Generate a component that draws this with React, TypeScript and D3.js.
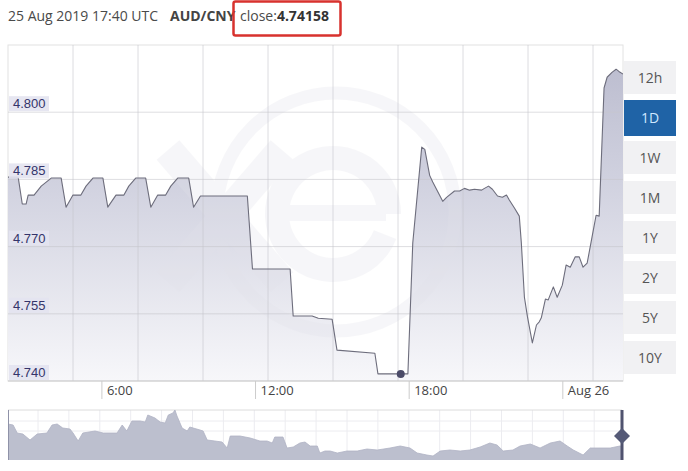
import React from "react";
import * as d3 from "d3";

// ---- data ----
const hours = [
  2.33, 2.73, 2.89, 3.04, 3.12, 3.35, 3.63, 4.02, 4.41, 4.6, 4.87, 5.18, 5.38, 5.65, 6.04, 6.23, 6.55, 6.86,
  7.05, 7.32, 7.71, 7.91, 8.18, 8.49, 8.69, 8.96, 9.39, 9.58, 9.85, 11.68, 11.88, 13.35, 13.47, 14.21, 14.45,
  14.99, 15.18, 16.66, 16.78, 17.67, 17.95, 18.14, 18.49, 18.61, 18.8, 18.92, 19.31, 19.46, 19.77, 19.97,
  20.16, 20.36, 20.55, 20.83, 20.94, 21.1, 21.25, 21.45, 21.64, 21.8, 21.91, 22.11, 22.3, 22.38, 22.5, 22.62,
  22.81, 22.97, 23.08, 23.16, 23.32, 23.43, 23.63, 23.78, 23.98, 24.13, 24.29, 24.48, 24.64, 24.79, 24.95,
  25.14, 25.3, 25.42, 25.61, 25.73, 25.92, 26.08, 26.19, 26.35,
];
const rates = [
  4.7855, 4.7855, 4.7795, 4.7795, 4.7815, 4.7815, 4.7835, 4.7853, 4.7853, 4.7788, 4.7815, 4.7815, 4.7835,
  4.7853, 4.7853, 4.7788, 4.7815, 4.7815, 4.7835, 4.7853, 4.7853, 4.7788, 4.7815, 4.7815, 4.7835, 4.7853,
  4.7853, 4.7788, 4.7813, 4.7813, 4.765, 4.765, 4.7545, 4.7545, 4.754, 4.7538, 4.7469, 4.7462, 4.7416,
  4.74158, 4.7416, 4.7708, 4.7922, 4.7917, 4.7859, 4.7844, 4.7801, 4.781, 4.7824, 4.7824, 4.783, 4.7826,
  4.7828, 4.7826, 4.783, 4.7835, 4.7828, 4.7813, 4.781, 4.7815, 4.7804, 4.7786, 4.7768, 4.7708, 4.7587,
  4.7543, 4.7485, 4.7525, 4.7532, 4.7541, 4.7583, 4.7581, 4.761, 4.7587, 4.7614, 4.7659, 4.7654, 4.7677,
  4.7677, 4.7654, 4.7663, 4.7721, 4.777, 4.7768, 4.8054, 4.8078, 4.8089, 4.8096, 4.8091, 4.8085,
];

const navMonths = [
  0, 1.0, 1.8, 2.9, 4.3, 5.7, 7.6, 8.6, 9.6, 10.7, 12.1, 12.7, 13.7, 14.6, 17.0, 18.6, 21.3, 22.3, 23.2, 24.2,
  25.8, 26.8, 27.3, 28.7, 29.7, 30.7, 31.3, 32.2, 32.6, 33.0, 34.0, 35.0, 35.5, 37.5, 38.1, 38.9, 40.4, 41.8,
  42.8, 43.4, 45.3, 47.3, 49.2, 50.6, 51.6, 52.1, 53.7, 54.5, 55.7, 57.0, 58.0, 59.0, 60.4, 60.9, 61.9, 62.9,
  64.3, 66.2, 68.2, 70.1, 72.1, 74.6, 76.6, 78.5, 79.9, 81.8, 83.0, 84.4, 86.3, 88.3, 90.2, 92.2, 94.1, 95.5,
  96.7, 98.6, 100.0, 102.0, 103.9, 105.9, 107.8, 109.2, 110.4, 112.3, 113.7, 115.6, 117.6, 119.5, 119.9,
];
const navRates = [
  5.132, 5.12, 5.024, 5.012, 4.94, 5.012, 5.024, 5.12, 5.132, 5.084, 5.072, 5.024, 4.928, 5.024, 5.048, 5.024,
  5.024, 5.12, 5.048, 5.168, 5.168, 5.156, 5.24, 5.204, 5.156, 5.144, 5.24, 5.264, 5.3, 5.228, 5.084, 5.048,
  5.096, 5.06, 5.048, 4.94, 4.928, 4.916, 4.844, 4.988, 4.988, 4.964, 4.928, 4.928, 4.904, 4.976, 4.976,
  4.844, 4.856, 4.904, 4.916, 4.868, 4.868, 4.784, 4.808, 4.808, 4.784, 4.808, 4.808, 4.832, 4.82, 4.844,
  4.868, 4.844, 4.784, 4.76, 4.748, 4.808, 4.82, 4.808, 4.82, 4.856, 4.904, 4.88, 4.808, 4.82, 4.868, 4.892,
  4.844, 4.904, 4.928, 4.868, 4.82, 4.76, 4.844, 4.844, 4.844, 4.868, 4.868,
];

const yTicks = [4.74, 4.755, 4.77, 4.785, 4.8];
const xTickHours = [6, 12, 18, 24];
const xTickLabels = ["6:00", "12:00", "18:00", "Aug 26"];
const ranges = ["12h", "1D", "1W", "1M", "1Y", "2Y", "5Y", "10Y"];
const activeRange = "1D";
const hoverHour = 17.67;
const hoverRate = 4.74158;
const headerDate = "25 Aug 2019 17:40 UTC";
const pairName = "AUD/CNY";

// ---- layout ----
const W = 688;
const H = 471;
const plot = { left: 8, right: 623, top: 45, bottom: 381 };
const nav = { left: 8, right: 622, top: 410, bottom: 460 };
const sans = "'Open Sans', 'Noto Sans', sans-serif";

export default function App() {
  const x = d3.scaleLinear().domain([2.333, 26.35]).range([plot.left, plot.right]);
  const y = d3.scaleLinear().domain([4.74, 4.815]).range([plot.bottom, plot.top]);
  const data = hours.map((h, i) => ({ h, v: rates[i] }));
  const area = d3
    .area<{ h: number; v: number }>()
    .x((d) => x(d.h))
    .y0(plot.bottom)
    .y1((d) => y(d.v));
  const line = d3
    .line<{ h: number; v: number }>()
    .x((d) => x(d.h))
    .y((d) => y(d.v));

  const nx = d3.scaleLinear().domain([0, 119.9]).range([nav.left, nav.right]);
  const ny = d3.scaleLinear().domain([4.7, 5.3]).range([nav.bottom, nav.top]);
  const navData = navMonths.map((m, i) => ({ m, v: navRates[i] }));
  const navArea = d3
    .area<{ m: number; v: number }>()
    .x((d) => nx(d.m))
    .y0(nav.bottom)
    .y1((d) => ny(d.v));
  const navLine = d3
    .line<{ m: number; v: number }>()
    .x((d) => nx(d.m))
    .y((d) => ny(d.v));

  const vGrid = d3.range(1, 10).map((k) => plot.left + k * 65);
  const navVGrid = d3.range(0, 19).map((k) => 38 + k * 30.9);

  // watermark geometry
  const wmCx = 336;
  const wmCy = 214;
  const eArc = d3.arc()({
    innerRadius: 44,
    outerRadius: 68,
    startAngle: Math.PI * 0.62,
    endAngle: Math.PI * 2.5,
  } as any);

  const btnX = 624;
  const btnW = 52;

  return (
    <svg
      width={W}
      height={H}
      style={{ position: "absolute", left: 0, top: 0, background: "#fff" }}
    >
      <defs>
        <linearGradient id="fillGrad" gradientUnits="userSpaceOnUse" x1="0" y1={plot.top} x2="0" y2={plot.bottom}>
          <stop offset="0%" stopColor="#b9bacd" />
          <stop offset="40%" stopColor="#d0d1df" />
          <stop offset="100%" stopColor="#f7f7fa" />
        </linearGradient>
        <clipPath id="plotClip">
          <rect x={plot.left} y={plot.top} width={plot.right - plot.left} height={plot.bottom - plot.top} />
        </clipPath>
      </defs>

      {/* header */}
      <text x={8} y={21} fontFamily={sans} fontSize={14} fill="#4a4a4a">
        {headerDate}
      </text>
      <text x={170} y={21} fontFamily={sans} fontSize={14} fill="#444" fontWeight="bold">
        {pairName}
      </text>
      <text x={240} y={21} fontFamily={sans} fontSize={14} fill="#4a4a4a">
        close:
        <tspan fontWeight="bold" fill="#333">
          {hoverRate.toFixed(5)}
        </tspan>
      </text>
      <rect x={233.5} y={1.5} width={107} height={34} rx={2} fill="none" stroke="#d8322e" strokeWidth={2.5} />

      {/* plot frame */}
      <rect
        x={plot.left}
        y={plot.top}
        width={plot.right - plot.left}
        height={plot.bottom - plot.top}
        fill="#fff"
        stroke="#e2e2e2"
      />

      <g clipPath="url(#plotClip)">
        <path d={area(data) || ""} fill="url(#fillGrad)" />

        {/* watermark */}
        <g opacity={0.28}>
          <circle cx={wmCx} cy={wmCy - 2} r={119} fill="none" stroke="#e2e2ea" strokeWidth={13} />
          <path d={eArc || ""} transform={`translate(${wmCx - 3},${wmCy})`} fill="#e2e2ea" />
          <rect x={wmCx - 50} y={wmCy - 9} width={100} height={16} fill="#e2e2ea" />
          <line x1={168} y1={150} x2={282} y2={282} stroke="#e2e2ea" strokeWidth={30} />
          <line x1={282} y1={150} x2={168} y2={282} stroke="#e2e2ea" strokeWidth={30} />
        </g>

        {/* grid */}
        {yTicks.map((t) => (
          <line key={t} x1={plot.left} x2={plot.right} y1={y(t)} y2={y(t)} stroke="#c6c6cc" strokeOpacity={0.6} />
        ))}
        {vGrid.map((gx) => (
          <line key={gx} x1={gx} x2={gx} y1={plot.top} y2={plot.bottom} stroke="#c6c6cc" strokeOpacity={0.6} />
        ))}

        <path d={line(data) || ""} fill="none" stroke="#6d6d7c" strokeWidth={1.1} strokeLinejoin="round" />
        <circle cx={x(hoverHour)} cy={y(hoverRate)} r={4} fill="#4b4b68" />
      </g>

      {/* y labels */}
      {yTicks.map((t) => (
        <g key={t}>
          <rect x={plot.left + 1} y={y(t) - 16} width={40} height={15} fill="#e3e3ef" opacity={0.9} />
          <text
            x={plot.left + 5}
            y={y(t) - 4}
            fontFamily="'Liberation Sans', Arial, sans-serif"
            fontSize={13}
            fill="#34346a"
          >
            {t.toFixed(3)}
          </text>
        </g>
      ))}

      {/* x axis */}
      <line x1={plot.left} x2={plot.right} y1={plot.bottom} y2={plot.bottom} stroke="#ccc" />
      {xTickHours.map((h, i) => (
        <g key={h}>
          <line x1={x(h)} x2={x(h)} y1={plot.bottom} y2={plot.bottom + 18} stroke="#ccc" />
          <text x={x(h) + 5} y={395} fontFamily={sans} fontSize={13} fill="#444">
            {xTickLabels[i]}
          </text>
        </g>
      ))}

      {/* range buttons */}
      {ranges.map((r, i) => {
        const active = r === activeRange;
        const top = 61 + i * 40;
        return (
          <g key={r}>
            <rect
              x={btnX}
              y={active ? top - 1 : top}
              width={btnW}
              height={active ? 36 : 33}
              fill={active ? "#1f63a6" : "#f1f1f3"}
            />
            <text
              x={btnX + btnW / 2}
              y={top + 22}
              textAnchor="middle"
              fontFamily={sans}
              fontSize={14}
              fill={active ? "#cfe8ff" : "#555"}
            >
              {r}
            </text>
          </g>
        );
      })}

      {/* navigator */}
      <rect x={nav.left} y={nav.top} width={nav.right - nav.left} height={nav.bottom - nav.top} fill="#fff" />
      {navVGrid.map((gx) => (
        <line key={gx} x1={gx} x2={gx} y1={nav.top} y2={nav.bottom} stroke="#ececf0" />
      ))}
      {[421, 431].map((gy) => (
        <line key={gy} x1={nav.left} x2={nav.right} y1={gy} y2={gy} stroke="#ececf0" />
      ))}
      <line x1={nav.left} x2={nav.right} y1={nav.top} y2={nav.top} stroke="#dcdcdc" />
      <path d={navArea(navData) || ""} fill="#bcbfce" />
      <path d={navLine(navData) || ""} fill="none" stroke="#b0b3c4" strokeWidth={0.8} />
      <line x1={nav.left + 0.5} x2={nav.left + 0.5} y1={nav.top} y2={nav.bottom} stroke="#8f92a8" />
      <rect x={nav.right - 1.5} y={nav.top} width={3} height={nav.bottom - nav.top} fill="#50536f" />
      <path
        d={`M${nav.right - 8},436 L${nav.right},428 L${nav.right + 8},436 L${nav.right},444 Z`}
        fill="#555a77"
      />
    </svg>
  );
}
